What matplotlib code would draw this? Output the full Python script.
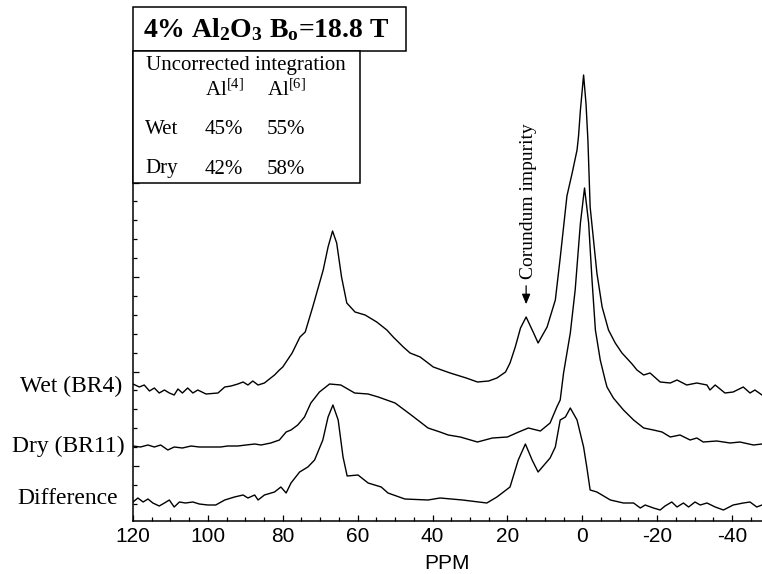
import matplotlib
matplotlib.use("Agg")
import matplotlib.pyplot as plt
import numpy as np
from matplotlib.patches import Rectangle
from matplotlib.ticker import MultipleLocator

plt.rcParams["font.family"] = ["Liberation Serif", "DejaVu Serif"]
plt.rcParams["mathtext.fontset"] = "custom"
plt.rcParams["mathtext.rm"] = "Liberation Serif"
plt.rcParams["mathtext.bf"] = "Liberation Serif:bold"
plt.rcParams["mathtext.default"] = "regular"
plt.rcParams["axes.unicode_minus"] = False

# 27Al spectra (ppm, intensity above each trace's baseline)
wet_ppm = [120, 118.3, 117, 115.6, 114.3, 113, 111.6, 110.3, 109, 108, 106.8, 105.4,
           104, 102.7, 100.5, 97.3, 95.5, 93.8, 92, 90.6, 89.3, 88, 86.6, 84.9,
           82.2, 80.9, 80, 77.5, 75.4, 74, 72, 69.2, 67.9, 66.7, 65.6, 64.3, 62.9,
           60.7, 58, 54.9, 52.2, 50.5, 47.8, 46, 43.3, 39.8, 35.3, 31, 28, 25,
           22.8, 20.5, 19.3, 17.9, 16.5, 15, 13, 11.8, 9.4, 7.2, 5.9, 4.1, 2.7,
           1.4, 1.0, 0.5, -0.35, -1.0, -1.5, -2.1, -3, -3.9, -5.3, -7, -8.8,
           -10.6, -13.3, -14.6, -16.4, -18.1, -20.8, -23.5, -25.3, -27.9, -30.6,
           -33.3, -34.1, -35.5, -38.1, -40.3, -43, -44.8, -46.1, -48]
wet_int = [2, -1, 1, -5, -2, -7, -4, -7, -9, -3, -7, -2,
           -7, -4, -8, -7, -1, 0, 2, 4, 1, 5, 1, 3,
           11, 16, 19, 33, 49, 54, 79, 116, 139, 155, 143, 109, 83,
           74, 71, 64, 56, 49, 39, 33, 29, 19, 13, 8, 4, 5,
           8, 14, 23, 39, 58, 69, 53, 43, 59, 86, 128, 190, 213,
           236, 250, 276, 311, 282, 246, 179, 146, 113, 79, 56, 43,
           33, 22, 16, 11, 13, 4, 3, 6, 1, 3,
           1, -4, 1, -7, -6, -1, -7, -4, -9]

dry_ppm = [120, 118, 116, 114.3, 112.6, 110.7, 109, 106.8, 104.5, 102.3, 99.2, 96.6,
           94.7, 92, 89.8, 87.5, 85.8, 83.2, 80.9, 79.1, 77.8, 76, 74.2, 72.5,
           70.2, 67.5, 64.5, 60.8, 57.2, 54.5, 50, 45.7, 41.2, 38, 35.8, 32.6, 28,
           24, 20, 17, 14.4, 11.2, 8.6, 6.8, 5.9, 5.0, 3.2, 1.9, 0.5, -0.6, -1.7,
           -2.6, -3.5, -4.8, -6.1, -6.6, -8.3, -11, -13.7, -16.4, -19, -21.3,
           -23.5, -26.1, -28.8, -30.6, -32.3, -35.9, -39.5, -42.1, -45.7, -48]
dry_int = [0, -1, 1, -1, 1, -4, -1, -2, 0, -1, -1, -1,
           0, 0, 1, 2, 1, 3, 6, 14, 16, 21, 29, 43,
           54, 62, 61, 53, 52, 49, 43, 31, 18, 14, 11, 9, 4,
           8, 9, 14, 18, 15, 23, 39, 46, 73, 113, 156, 223, 258, 223,
           166, 116, 86, 66, 59, 48, 36, 26, 18, 16, 14,
           9, 11, 6, 8, 4, 5, 3, 4, 1, 2]

diff_ppm = [120, 118.7, 117.3, 116, 114.7, 113, 111.6, 110.3, 109, 107.6, 106, 104,
            102.3, 100, 97.9, 95.5, 92.9, 90.6, 89.3, 87.5, 86.6, 84.9, 82.2, 80.5,
            79.1, 77.8, 75.5, 73.3, 71.5, 69.3, 67.9, 66.6, 65.2, 63.9, 62.8, 59.9,
            57.2, 53.7, 51.9, 47.4, 41.2, 38, 32, 25.5, 22.8, 19.3, 17.1, 15.2,
            13.4, 11.8, 8.6, 7.2, 5.9, 4.5, 3.2, 1.4, -0.35, -1.2, -2.1, -3.9,
            -4.8, -7.5, -11, -13.7, -15.5, -16.8, -19, -20.8, -22.1, -23.9, -25.3,
            -27, -28.4, -30.1, -31.5, -33.3, -35.5, -37.7, -40.3, -43, -44.8,
            -46.6, -48]
diff_int = [-4, 0, -4, -1, -5, -8, -5, -2, -9, -4, -5, -4,
            -6, -7, -7, -2, 1, 3, 0, 3, -2, 3, 6, 11,
            5, 15, 26, 31, 38, 58, 81, 93, 78, 41, 22, 23,
            15, 11, 5, -1, -2, 0, -2, -5, 1, 11, 38, 54,
            38, 26, 40, 51, 78, 81, 90, 78, 51, 31, 8, 6,
            4, -2, -5, -5, -10, -7, -10, -12, -8, -4, -9,
            -5, -9, -4, -7, -5, -9, -12, -7, -5, -4,
            -9, -7]

trace_names = ["Wet (BR4)", "Dry (BR11)", "Difference"]
trace_offsets = [135, 75, 23]
label_gap_px = [11, 8, 15]

table_head = "Uncorrected integration"
table_cols = ["Al$^{[4]}$", "Al$^{[6]}$"]
table_rows = ["Wet", "Dry"]
table_vals = [["45%", "55%"], ["42%", "58%"]]
title_txt = "4% Al$_2$O$_3$ B$_o$=18.8 T"

W, H = 762, 574


def fx(px):
    return px / W


def fy(py):
    return 1 - py / H


fig = plt.figure(figsize=(W / 100, H / 100), dpi=100)
ax = fig.add_axes([fx(133), fy(521), (762 - 133) / W, (521 - 52) / H])

spectra = [(wet_ppm, wet_int), (dry_ppm, dry_int), (diff_ppm, diff_int)]
for (ppm, inten), off in zip(spectra, trace_offsets):
    ax.plot(ppm, np.array(inten) + off, color="black", lw=1.0)

ax.set_xlim(120, -48)
ax.set_ylim(0, 469)
ax.spines["top"].set_visible(False)
ax.spines["right"].set_visible(False)
for s in ("left", "bottom"):
    ax.spines[s].set_linewidth(1.1)

ax.set_xticks([120, 100, 80, 60, 40, 20, 0, -20, -40])
ax.xaxis.set_minor_locator(MultipleLocator(5))
ax.set_yticks(np.arange(55, 469, 94.5))
ax.set_yticks(np.arange(55 - 18.9 * 2, 469, 18.9), minor=True)
ax.tick_params(axis="both", which="both", direction="in", width=0.9)
ax.tick_params(axis="both", which="major", length=4.5)
ax.tick_params(axis="both", which="minor", length=2.8)
ax.tick_params(axis="y", which="both", labelleft=False)
ax.tick_params(axis="x", which="major", pad=4)
for lab in ax.get_xticklabels():
    lab.set_fontfamily("Liberation Sans")
    lab.set_fontsize(15)
ax.set_xlabel("PPM", fontfamily="Liberation Sans", fontsize=15, labelpad=6)

for name, off, gap in zip(trace_names, trace_offsets, label_gap_px):
    ax.annotate(name, xy=(0, off), xycoords=("axes fraction", "data"),
                xytext=(-gap * 0.72, 0), textcoords="offset points",
                ha="right", va="center", fontsize=17)

# corundum impurity marker
ax.annotate("", xy=(15, 521 - 307), xytext=(15, 521 - 283),
            arrowprops=dict(arrowstyle="-|>,head_length=0.6,head_width=0.25",
                            color="black", lw=0.9, mutation_scale=10))
ax.text(14.4, 521 - 279, "Corundum impurity", rotation=90, ha="center",
        va="bottom", fontsize=14)

# title box and integration table
fig.patches.append(Rectangle((fx(133), fy(51)), fx(406) - fx(133), fy(7) - fy(51),
                             transform=fig.transFigure, facecolor="white",
                             edgecolor="black", lw=1.1, zorder=5))
fig.patches.append(Rectangle((fx(133), fy(183)), fx(360) - fx(133), fy(51) - fy(183),
                             transform=fig.transFigure, facecolor="white",
                             edgecolor="black", lw=1.1, zorder=5))
fig.text(fx(143), fy(30), title_txt, fontsize=20, fontweight="bold",
         ha="left", va="center", zorder=6)
fig.text(fx(146), fy(66), table_head, fontsize=15, ha="left", va="center", zorder=6)
col_x = [205, 267]
for cx, col in zip(col_x, table_cols):
    fig.text(fx(cx), fy(90), col, fontsize=15, ha="left", va="center", zorder=6)
row_y = [129, 169]
for ry, row, vals in zip(row_y, table_rows, table_vals):
    fig.text(fx(145), fy(ry), row, fontsize=15, ha="left", va="center", zorder=6)
    for cx, v in zip(col_x, vals):
        fig.text(fx(cx), fy(ry), v, fontsize=15, ha="left", va="center", zorder=6)

fig.savefig("out.png", dpi=100)
